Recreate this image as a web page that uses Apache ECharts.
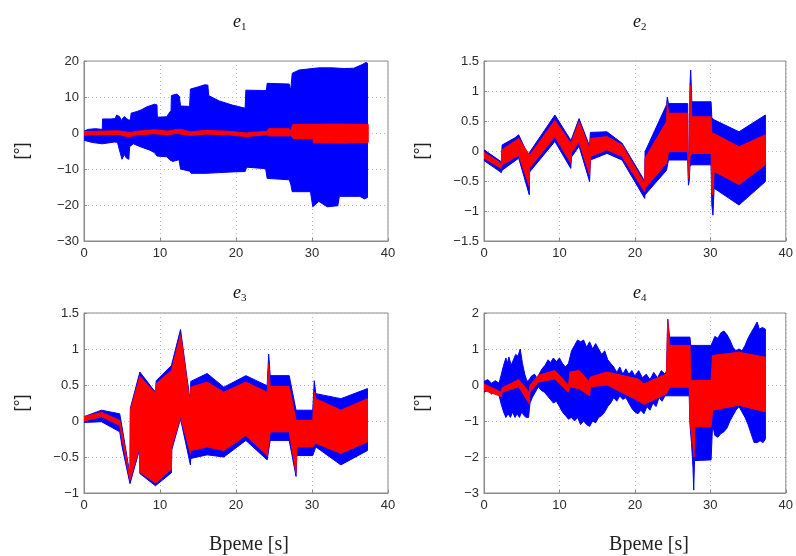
<!DOCTYPE html>
<html>
<head>
<meta charset="utf-8">
<script src="https://cdn.jsdelivr.net/npm/echarts@6/dist/echarts.min.js"></script>
<style>
  html, body { margin: 0; padding: 0; background: #fff; }
  #chart { width: 796px; height: 556px; }
</style>
</head>
<body>
<div id="chart"></div>
<script>
// Envelopes of the tracking errors e1..e4 versus time [s].
// Each band is an upper and a lower edge given as [t, value] pairs.

const xTicks = [0, 10, 20, 30, 40];

// ---- e1 ----
const e1BlueUpper = [[0,0.5],[0.5,1.0],[1.5,1.2],[2.4,1.0],[2.45,3.9],[3.5,3.9],[4.1,4.0],[4.3,5.0],[4.7,4.5],[4.9,3.5],[5.3,4.6],[5.6,4.0],[5.9,3.6],[6.1,3.6],[6.2,5.5],[7.0,6.0],[7.5,6.4],[8.3,7.3],[9.3,8.0],[9.6,7.8],[9.65,4.4],[10.9,4.5],[11.3,5.9],[11.45,6.0],[11.5,10.4],[12.2,10.8],[12.55,10.2],[12.7,7.5],[13.9,7.4],[14.0,12.2],[15.0,12.8],[15.9,13.4],[16.3,13.3],[16.4,10.4],[17.8,8.9],[19.6,7.7],[21.2,6.9],[21.3,11.9],[23.5,11.8],[24.0,11.8],[24.1,13.8],[27.0,13.6],[27.2,11.9],[27.4,16.6],[28.3,17.5],[30.9,18.1],[32.6,18.1],[34.3,17.9],[35.5,18.0],[36.6,19.0],[37.1,19.6],[37.3,19.4]];
const e1BlueLower = [[0,-2.0],[1.0,-2.6],[2.4,-3.0],[4.0,-2.5],[4.4,-2.6],[4.7,-5.0],[5.0,-7.3],[5.3,-6.0],[5.6,-7.0],[5.9,-7.3],[6.0,-3.8],[6.5,-3.0],[7.4,-3.8],[8.7,-4.8],[9.3,-5.5],[9.6,-6.4],[10.9,-6.6],[11.3,-7.5],[11.7,-7.9],[12.5,-7.4],[12.7,-10.0],[13.9,-10.6],[14.1,-11.2],[16.1,-11.2],[17.8,-11.0],[19.6,-10.8],[21.2,-10.7],[21.4,-9.5],[23.9,-9.9],[24.1,-12.6],[27.0,-13.0],[27.2,-14.2],[27.4,-16.3],[29.8,-16.3],[30.1,-20.5],[30.9,-19.0],[32.0,-20.5],[33.4,-20.2],[33.6,-17.6],[36.3,-17.6],[36.9,-18.3],[37.3,-17.9]];
const e1RedUpper = [[0,0.4],[2.4,0.5],[4.5,0.6],[5.5,0.3],[6.0,0.1],[7.0,0.5],[9.3,0.9],[11.0,0.5],[12.3,1.0],[12.7,1.0],[14.0,0.3],[16.0,0.7],[19.0,0.5],[21.3,0.0],[24.1,0.5],[24.3,1.2],[27.0,1.2],[27.2,0.6],[27.5,2.4],[30.0,2.4],[33.0,2.5],[37.4,2.4]];
const e1RedLower = [[0,-0.6],[2.4,-0.4],[4.5,-0.4],[5.5,-0.9],[6.0,-1.0],[7.0,-0.5],[9.3,-0.2],[11.0,-0.5],[12.3,-0.1],[12.7,-0.3],[14.0,-0.7],[16.0,-0.3],[19.0,-0.5],[21.3,-1.0],[24.1,-0.5],[24.3,-0.8],[27.0,-0.8],[27.2,-0.6],[27.5,-1.5],[30.1,-1.6],[30.2,-2.7],[34.0,-2.8],[37.4,-2.6]];

// ---- e2 ----
const e2BlueUpper = [[0,0.02],[2.3,-0.18],[2.4,0.1],[4.1,0.22],[4.6,0.27],[5.95,-0.1],[6.05,-0.02],[9.4,0.6],[11.5,0.18],[11.6,0.2],[12.6,0.54],[14.0,0.08],[14.1,0.31],[16.3,0.32],[18.3,0.13],[21.3,-0.5],[21.35,-0.01],[24.2,0.77],[24.3,0.9],[24.45,0.79],[27.0,0.79],[27.05,0.0],[27.2,-0.1],[27.3,1.1],[27.4,1.35],[27.55,0.82],[30.1,0.82],[30.2,0.55],[30.5,0.52],[33.8,0.32],[37.3,0.6]];
const e2BlueLower = [[0,-0.16],[2.3,-0.36],[2.4,-0.32],[4.6,-0.12],[6.0,-0.73],[6.05,-0.35],[9.4,0.16],[11.5,-0.29],[11.6,-0.1],[12.6,0.08],[14.0,-0.51],[14.1,-0.15],[16.3,-0.04],[18.3,-0.15],[21.3,-0.79],[21.35,-0.73],[24.2,-0.32],[24.45,-0.15],[27.0,-0.15],[27.1,-0.57],[27.2,-0.5],[27.3,-0.25],[27.55,-0.23],[30.1,-0.23],[30.2,-0.9],[30.35,-1.07],[30.5,-0.62],[33.8,-0.9],[37.3,-0.51]];
const e2RedUpper = [[0,-0.02],[2.3,-0.21],[2.4,0.02],[4.6,0.21],[5.95,-0.05],[6.05,-0.07],[9.4,0.51],[11.5,0.13],[11.6,0.15],[12.6,0.49],[14.0,0.04],[14.1,0.21],[16.3,0.24],[18.3,0.1],[21.3,-0.55],[21.35,-0.12],[24.2,0.49],[24.3,0.82],[24.45,0.63],[27.0,0.63],[27.05,-0.05],[27.2,-0.1],[27.3,0.9],[27.4,1.1],[27.55,0.57],[30.1,0.57],[30.2,0.3],[30.5,0.29],[33.8,0.07],[37.3,0.27]];
const e2RedLower = [[0,-0.12],[2.3,-0.29],[2.4,-0.23],[4.6,-0.07],[6.0,-0.59],[6.05,-0.28],[9.4,0.24],[11.5,-0.2],[11.6,-0.02],[12.6,0.15],[14.0,-0.4],[14.1,-0.09],[16.3,0.02],[18.3,-0.09],[21.3,-0.68],[21.35,-0.62],[24.2,-0.2],[24.45,-0.01],[27.0,-0.01],[27.1,-0.46],[27.2,-0.4],[27.3,-0.1],[27.55,-0.04],[30.1,-0.04],[30.2,-0.7],[30.35,-0.73],[30.5,-0.34],[33.8,-0.56],[37.3,-0.23]];

// ---- e3 ----
const e3BlueUpper = [[0,0.06],[2.3,0.15],[4.7,0.1],[5.0,-0.08],[6.05,-0.75],[6.1,0.18],[7.35,0.68],[9.4,0.4],[9.5,0.56],[11.5,0.77],[12.7,1.27],[14.0,0.25],[14.05,0.55],[16.2,0.66],[18.4,0.47],[21.3,0.63],[24.1,0.49],[24.3,0.93],[24.5,0.63],[27.0,0.63],[27.9,0.15],[30.1,0.15],[30.3,0.56],[30.5,0.38],[33.8,0.31],[37.3,0.45]];
const e3BlueLower = [[0,-0.02],[2.3,-0.01],[4.7,-0.15],[5.0,-0.35],[6.05,-0.87],[7.3,-0.4],[7.35,-0.73],[9.4,-0.9],[11.5,-0.72],[11.55,-0.4],[12.7,0.03],[14.0,-0.61],[14.05,-0.52],[16.2,-0.47],[18.4,-0.5],[21.3,-0.27],[24.1,-0.54],[24.5,-0.27],[27.0,-0.27],[27.9,-0.77],[28.0,-0.48],[30.1,-0.48],[30.5,-0.36],[33.8,-0.61],[37.3,-0.41]];
const e3RedUpper = [[0,0.06],[2.3,0.12],[4.7,0.01],[5.0,-0.15],[6.05,-0.78],[6.1,0.15],[7.35,0.62],[9.4,0.38],[9.5,0.52],[11.5,0.7],[12.7,1.2],[14.0,0.2],[14.05,0.47],[16.2,0.54],[18.4,0.4],[21.3,0.54],[24.1,0.4],[24.3,0.79],[24.5,0.48],[27.0,0.48],[27.9,0.01],[30.1,0.01],[30.3,0.4],[30.5,0.31],[33.8,0.15],[37.3,0.31]];
const e3RedLower = [[0,0.0],[2.3,0.06],[4.7,-0.06],[5.0,-0.25],[6.05,-0.82],[7.3,-0.36],[7.35,-0.71],[9.4,-0.86],[11.5,-0.67],[11.55,-0.36],[12.7,0.06],[14.0,-0.45],[14.05,-0.41],[16.2,-0.36],[18.4,-0.41],[21.3,-0.2],[24.1,-0.48],[24.5,-0.15],[27.0,-0.15],[27.9,-0.72],[28.0,-0.36],[30.1,-0.36],[30.5,-0.31],[33.8,-0.45],[37.3,-0.29]];

// ---- e4 ----
const e4BlueUpper = [[0,0.1],[0.5,0.15],[1.0,0.05],[1.5,0.12],[2.0,0.05],[2.3,0.3],[2.6,0.55],[2.9,0.75],[3.1,0.6],[3.3,0.78],[3.6,0.55],[3.9,0.7],[4.2,0.85],[4.5,0.8],[4.8,1.0],[5.1,0.6],[5.4,0.3],[5.7,0.1],[6.0,0.15],[6.3,0.25],[6.7,0.3],[7.0,0.2],[7.3,0.3],[7.7,0.45],[8.1,0.55],[8.5,0.7],[8.8,0.62],[9.2,0.75],[9.6,0.65],[10.0,0.75],[10.4,0.6],[10.8,0.5],[11.2,0.6],[11.6,0.95],[12.0,1.1],[12.4,1.25],[12.8,1.2],[13.2,1.25],[13.6,1.05],[14.0,1.2],[14.4,1.0],[14.8,1.15],[15.2,1.0],[15.6,0.85],[16.0,0.95],[16.4,0.7],[16.8,0.6],[17.2,0.5],[17.6,0.35],[18.0,0.5],[18.4,0.3],[18.8,0.45],[19.2,0.3],[19.6,0.4],[20.0,0.25],[20.5,0.4],[21.0,0.2],[21.5,0.3],[22.0,0.15],[22.5,0.35],[23.0,0.2],[23.5,0.4],[24.0,0.3],[24.2,0.4],[24.35,1.83],[24.6,1.33],[27.3,1.33],[27.4,1.1],[30.1,1.1],[30.3,1.2],[30.6,1.35],[31.0,1.3],[31.4,1.45],[31.8,1.5],[32.2,1.4],[32.6,1.25],[33.0,1.05],[33.4,0.95],[33.8,1.0],[34.2,0.95],[34.6,1.1],[35.0,1.3],[35.4,1.45],[35.8,1.6],[36.2,1.75],[36.5,1.55],[36.9,1.6],[37.3,1.55]];
const e4BlueLower = [[0,-0.2],[0.5,-0.15],[1.0,-0.25],[1.5,-0.2],[2.0,-0.3],[2.3,-0.55],[2.6,-0.75],[2.9,-0.9],[3.2,-0.8],[3.5,-0.9],[3.8,-0.75],[4.1,-0.9],[4.4,-0.8],[4.7,-0.9],[5.0,-0.75],[5.3,-0.85],[5.6,-0.9],[5.9,-0.9],[6.1,-0.5],[6.4,-0.35],[6.8,-0.2],[7.2,-0.05],[7.6,-0.15],[8.0,-0.2],[8.4,-0.3],[8.8,-0.4],[9.2,-0.5],[9.6,-0.45],[10.0,-0.6],[10.4,-0.75],[10.8,-0.85],[11.2,-0.95],[11.6,-0.9],[12.0,-1.0],[12.4,-0.9],[12.8,-1.1],[13.2,-1.0],[13.6,-1.1],[14.0,-1.15],[14.4,-1.0],[14.8,-1.05],[15.2,-0.9],[15.6,-0.85],[16.0,-0.75],[16.4,-0.6],[16.8,-0.5],[17.2,-0.35],[17.6,-0.45],[18.0,-0.3],[18.4,-0.4],[18.8,-0.35],[19.2,-0.5],[19.6,-0.65],[20.0,-0.75],[20.4,-0.8],[20.8,-0.7],[21.2,-0.8],[21.6,-0.6],[22.0,-0.7],[22.4,-0.5],[22.8,-0.6],[23.2,-0.35],[23.6,-0.45],[24.0,-0.3],[24.6,-0.3],[27.2,-0.3],[27.3,-1.1],[27.5,-1.6],[27.7,-2.3],[27.8,-2.92],[27.9,-2.1],[30.1,-2.08],[30.3,-1.1],[30.6,-1.4],[31.0,-1.45],[31.4,-1.35],[31.8,-1.3],[32.2,-1.2],[32.6,-1.0],[33.0,-0.85],[33.4,-0.7],[33.8,-0.6],[34.2,-0.75],[34.6,-0.9],[35.0,-1.1],[35.4,-1.35],[35.8,-1.6],[36.2,-1.6],[36.6,-1.55],[37.0,-1.6],[37.3,-1.5]];
const e4RedUpper = [[0,0.03],[2.3,-0.2],[2.4,-0.08],[4.6,0.15],[6.0,-0.2],[6.1,-0.01],[7.2,0.27],[9.4,0.4],[11.2,-0.01],[11.4,0.36],[12.6,0.4],[13.9,0.1],[14.1,0.22],[16.3,0.36],[20.4,0.17],[21.2,0.03],[24.2,0.31],[24.35,1.83],[24.6,1.1],[27.3,1.1],[27.4,0.13],[30.1,0.13],[30.3,0.82],[33.8,0.91],[37.3,0.77]];
const e4RedLower = [[0,-0.15],[2.3,-0.32],[2.4,-0.2],[4.6,-0.05],[6.0,-0.52],[6.1,-0.2],[7.2,0.08],[9.4,0.17],[11.2,-0.2],[11.4,-0.05],[12.6,-0.1],[14.0,-0.3],[14.1,-0.05],[16.3,0.0],[20.4,-0.43],[21.2,-0.54],[24.2,-0.24],[24.6,-0.06],[27.2,-0.06],[27.3,-1.0],[27.6,-1.5],[27.85,-2.0],[27.95,-1.16],[30.1,-1.16],[30.3,-0.7],[33.8,-0.56],[37.3,-0.75]];

// y-axis ranges per panel: [min, max, interval]
const yRanges = [[-30, 20, 10], [-1.5, 1.5, 0.5], [-1, 1.5, 0.5], [-3, 2, 1]];
const panelTitles = ['1', '2', '3', '4'];
const yName = '[°]';
const xName = 'Време [s]';

const bands = [
  [e1BlueUpper, e1BlueLower, e1RedUpper, e1RedLower],
  [e2BlueUpper, e2BlueLower, e2RedUpper, e2RedLower],
  [e3BlueUpper, e3BlueLower, e3RedUpper, e3RedLower],
  [e4BlueUpper, e4BlueLower, e4RedUpper, e4RedLower]
];

const gridRects = [
  { left: 84, top: 61, width: 304, height: 180 },
  { left: 484, top: 61, width: 304, height: 180 },
  { left: 84, top: 313, width: 304, height: 180 },
  { left: 484, top: 313, width: 304, height: 180 }
];

const BOX = '#8a8a8a';
const TXT = '#2b2b2b';
const GRIDLINE = '#b8b8b8';
const SANS = '"Liberation Sans", Arial, sans-serif';
const SERIF = '"Liberation Serif", "Times New Roman", serif';

function fmt(v) {
  return String(Math.round(v * 10) / 10).replace('-', '\u2212');
}

// Filled band between an upper and a lower edge, drawn as one polygon.
function bandSeries(idx, upper, lower, color) {
  return {
    type: 'custom',
    xAxisIndex: idx,
    yAxisIndex: idx,
    clip: true,
    silent: true,
    animation: false,
    data: upper,
    encode: { x: 0, y: 1 },
    renderItem: function (params, api) {
      if (params.dataIndex !== 0) return null;
      const pts = upper.map(p => api.coord(p))
        .concat(lower.slice().reverse().map(p => api.coord(p)));
      return {
        type: 'polygon',
        shape: { points: pts },
        style: { fill: color, stroke: color, lineWidth: 1 }
      };
    }
  };
}

const grid = gridRects.map(r => Object.assign({
  show: true, borderColor: BOX, borderWidth: 1, backgroundColor: '#fff'
}, r));

const xAxis = gridRects.map((r, i) => ({
  gridIndex: i, type: 'value', min: xTicks[0], max: xTicks[xTicks.length - 1], interval: 10,
  axisLine: { show: true, onZero: false, lineStyle: { color: BOX } },
  axisTick: { show: true, inside: true, length: 3, lineStyle: { color: BOX } },
  axisLabel: { color: TXT, fontSize: 13, fontFamily: SANS, margin: 6, formatter: fmt },
  splitLine: { show: true, lineStyle: { color: GRIDLINE, type: [1, 3], width: 1 } }
}));

const yAxis = gridRects.map((r, i) => ({
  gridIndex: i, type: 'value', min: yRanges[i][0], max: yRanges[i][1], interval: yRanges[i][2],
  axisLine: { show: true, onZero: false, lineStyle: { color: BOX } },
  axisTick: { show: true, inside: true, length: 3, lineStyle: { color: BOX } },
  axisLabel: { color: TXT, fontSize: 13, fontFamily: SANS, margin: 5, formatter: fmt },
  splitLine: { show: true, lineStyle: { color: GRIDLINE, type: [1, 3], width: 1 } }
}));

const series = [];
bands.forEach((b, i) => {
  series.push(bandSeries(i, b[0], b[1], '#0000ff'));
  series.push(bandSeries(i, b[2], b[3], '#ff0000'));
});

// Titles e_k, axis names
const graphic = [];
gridRects.forEach((r, i) => {
  const cx = r.left + r.width / 2 + 5;
  const ty = i < 2 ? 22 : 293;
  graphic.push({
    type: 'text', x: cx, y: ty, style: {
      text: 'e', font: 'italic 18px ' + SERIF, fill: '#111',
      align: 'right', verticalAlign: 'middle'
    }
  });
  graphic.push({
    type: 'text', x: cx, y: ty + 5, style: {
      text: panelTitles[i], font: '11px ' + SERIF, fill: '#111',
      align: 'left', verticalAlign: 'middle'
    }
  });
  graphic.push({
    type: 'text', x: r.left - 62, y: r.top + r.height / 2, rotation: Math.PI / 2, style: {
      text: yName, font: '18px ' + SANS, fill: '#222',
      align: 'center', verticalAlign: 'middle'
    }
  });
  if (i >= 2) {
    graphic.push({
      type: 'text', x: r.left + r.width / 2 + 13, y: 545, style: {
        text: xName, font: '20px ' + SERIF, fill: '#222',
        align: 'center', verticalAlign: 'middle'
      }
    });
  }
});

const chart = echarts.init(document.getElementById('chart'), null, { renderer: 'canvas' });
chart.setOption({
  backgroundColor: '#fff',
  animation: false,
  grid: grid,
  xAxis: xAxis,
  yAxis: yAxis,
  series: series,
  graphic: graphic
});
</script>
</body>
</html>
